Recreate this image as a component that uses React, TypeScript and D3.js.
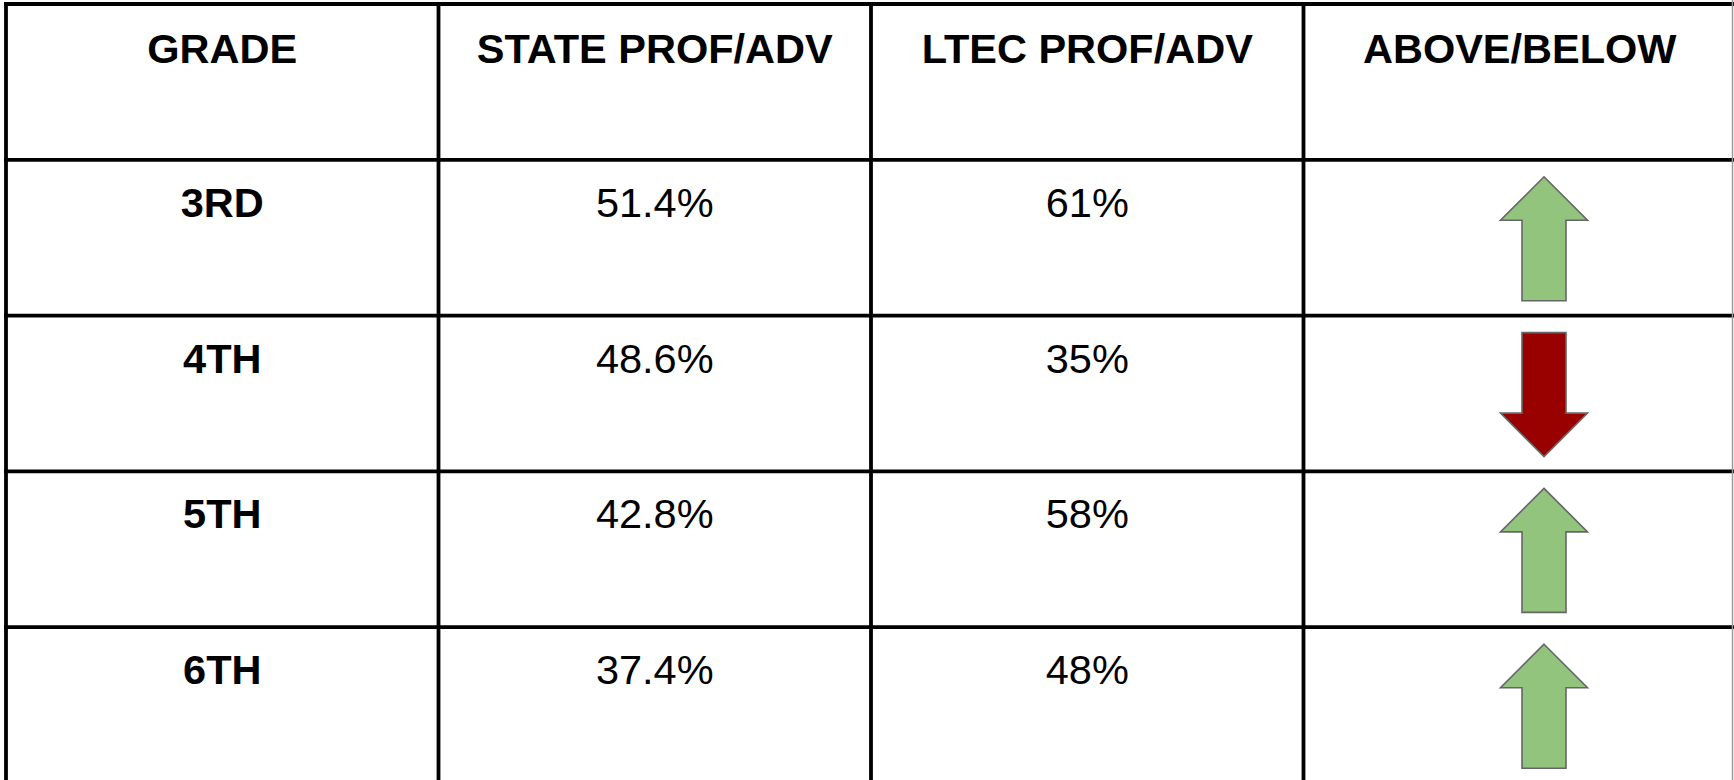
import React from "react";
import * as d3 from "d3";

const headers = ["GRADE", "STATE PROF/ADV", "LTEC PROF/ADV", "ABOVE/BELOW"];
const grades = ["3RD", "4TH", "5TH", "6TH"];
const stateValues = [51.4, 48.6, 42.8, 37.4];
const ltecValues = [61, 35, 58, 48];

const W = 1734;
const H = 780;

export default function App() {
  const x = d3.scaleBand<number>().domain([0, 1, 2, 3]).range([6, 1736]);
  const y = d3
    .scaleBand<string>()
    .domain(["header", ...grades])
    .range([4, 783]);
  const font = "'Liberation Sans', Arial, sans-serif";
  const fs = 41.5;
  const sw = 3.8;

  const arrowPath = (cx: number, top: number, up: boolean) => {
    const headHalf = 43.5;
    const shaftHalf = 22;
    const headLen = 43.5;
    const len = 124;
    const p = d3.path();
    if (up) {
      const tip = top;
      const base = top + headLen;
      const bottom = top + len;
      p.moveTo(cx, tip);
      p.lineTo(cx + headHalf, base);
      p.lineTo(cx + shaftHalf, base);
      p.lineTo(cx + shaftHalf, bottom);
      p.lineTo(cx - shaftHalf, bottom);
      p.lineTo(cx - shaftHalf, base);
      p.lineTo(cx - headHalf, base);
      p.closePath();
    } else {
      const tip = top + len;
      const base = tip - headLen;
      p.moveTo(cx - shaftHalf, top);
      p.lineTo(cx + shaftHalf, top);
      p.lineTo(cx + shaftHalf, base);
      p.lineTo(cx + headHalf, base);
      p.lineTo(cx, tip);
      p.lineTo(cx - headHalf, base);
      p.lineTo(cx - shaftHalf, base);
      p.closePath();
    }
    return p.toString();
  };

  const rowKeys = ["header", ...grades];
  const left = (x(0) as number) - sw / 2;

  return (
    <div style={{ position: "fixed", left: 0, top: 0, width: W, height: H, background: "#fff" }}>
      <svg width={W} height={H} style={{ display: "block" }}>
        <rect x={0} y={0} width={W} height={H} fill="#ffffff" />
        {headers.map((h, i) => (
          <text
            key={h}
            x={(x(i) as number) + x.bandwidth() / 2}
            y={(y("header") as number) + 58.7}
            textAnchor="middle"
            fontFamily={font}
            fontWeight="bold"
            fontSize={fs}
            fill="#000"
          >
            {h}
          </text>
        ))}
        {grades.map((g, i) => {
          const top = y(g) as number;
          const up = ltecValues[i] > stateValues[i];
          const cx = (x(3) as number) + 240.5;
          return (
            <g key={g}>
              <text
                x={(x(0) as number) + x.bandwidth() / 2}
                y={top + 57}
                textAnchor="middle"
                fontFamily={font}
                fontWeight="bold"
                fontSize={fs}
                fill="#000"
              >
                {g}
              </text>
              <text
                x={(x(1) as number) + x.bandwidth() / 2}
                y={top + 57}
                textAnchor="middle"
                fontFamily={font}
                fontSize={fs}
                fill="#000"
              >
                {stateValues[i].toFixed(1) + "%"}
              </text>
              <text
                x={(x(2) as number) + x.bandwidth() / 2}
                y={top + 57}
                textAnchor="middle"
                fontFamily={font}
                fontSize={fs}
                fill="#000"
              >
                {ltecValues[i] + "%"}
              </text>
              <path
                d={arrowPath(cx, top + 17, up)}
                fill={up ? "#93c47d" : "#990000"}
                stroke="#666666"
                strokeWidth={1.6}
                strokeLinejoin="miter"
              />
            </g>
          );
        })}
        {rowKeys.map((k) => (
          <line
            key={"h" + k}
            x1={left}
            x2={W}
            y1={y(k) as number}
            y2={y(k) as number}
            stroke="#000"
            strokeWidth={sw}
          />
        ))}
        {[0, 1, 2, 3].map((i) => (
          <line
            key={"v" + i}
            x1={x(i) as number}
            x2={x(i) as number}
            y1={(y("header") as number) - sw / 2}
            y2={H}
            stroke="#000"
            strokeWidth={sw}
          />
        ))}
        <line x1={W - 1.5} x2={W - 1.5} y1={0} y2={H} stroke="#9a9a9a" strokeWidth={1.5} />
      </svg>
    </div>
  );
}
